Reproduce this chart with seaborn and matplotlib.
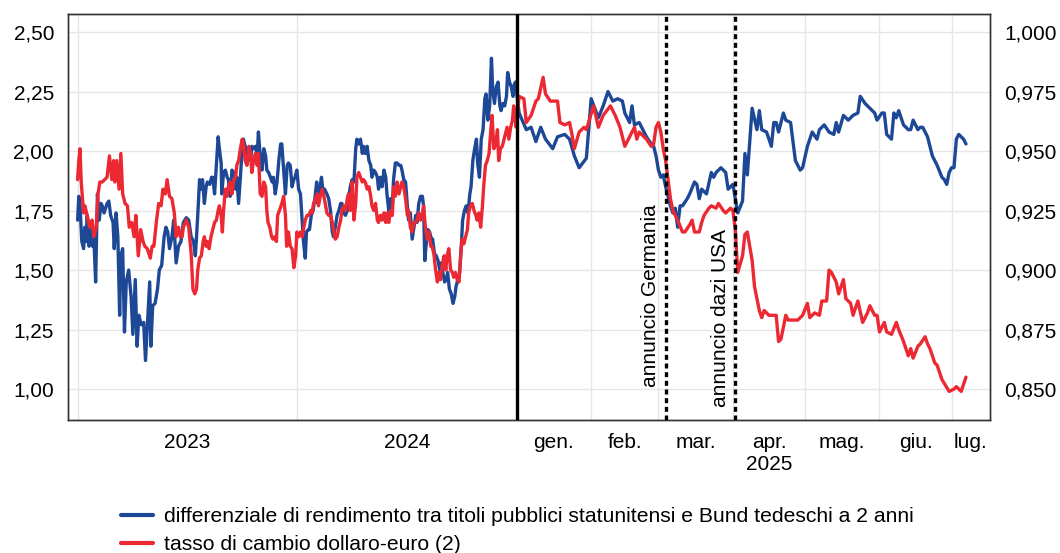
import numpy as np
import pandas as pd
import matplotlib
matplotlib.use("Agg")
import matplotlib.pyplot as plt
import matplotlib.ticker as ticker
from matplotlib.lines import Line2D
import seaborn as sns

# Values.
# 2023-24 readings: days since 1 Jan 2023; 2025 readings: days since 1 Jan 2025

# US-German 2 year yield spread (left axis, percentage points)
spread_days_2324 = [0, 2, 4, 7, 10, 12, 14, 16, 19, 22, 25, 27, 30, 33, 36, 39, 41, 44, 49, 52, 55, 59, 61, 64, 67, 70, 72, 75, 78, 81,
                    85, 89, 92, 96, 99, 102, 106, 110, 113, 117, 120, 122, 125, 129, 133, 136, 140, 144, 147, 150, 153, 157, 160, 164, 168, 172, 176, 181, 185, 189,
                    193, 196, 198, 200, 203, 205, 208, 211, 214, 216, 220, 223, 225, 228, 231, 234, 236, 239, 240, 243, 246, 249, 251, 254, 257, 260, 263, 265, 268, 271,
                    274, 276, 279, 282, 285, 288, 290, 293, 296, 299, 301, 304, 307, 310, 313, 315, 318, 321, 324, 326, 329, 332, 335, 338, 340, 343, 346, 349, 351, 354,
                    357, 360, 362, 365, 368, 371, 374, 376, 379, 381, 384, 386, 389, 392, 395, 398, 400, 403, 406, 409, 411, 415, 418, 421, 424, 426, 429, 432, 435, 438,
                    440, 443, 446, 449, 451, 454, 457, 460, 463, 465, 468, 471, 474, 476, 479, 482, 485, 488, 490, 493, 496, 499, 501, 504, 507, 510, 513, 515, 518, 521,
                    524, 526, 529, 532, 535, 538, 540, 543, 546, 549, 551, 554, 557, 560, 563, 565, 568, 571, 574, 576, 578, 580, 583, 586, 589, 591, 594, 597, 600, 603,
                    605, 608, 611, 614, 616, 619, 622, 625, 628, 630, 633, 636, 639, 641, 644, 647, 650, 653, 655, 658, 661, 664, 666, 669, 672, 675, 678, 680, 683, 686,
                    689, 691, 694, 697, 700, 703, 705, 708, 711, 714, 716, 719, 722, 725, 727, 729]
spread_2324 = [1.71, 1.81, 1.77, 1.62, 1.59, 1.68, 1.62, 1.73, 1.60, 1.68, 1.60, 1.64, 1.45, 1.82, 1.71, 1.78, 1.77, 1.74, 1.78, 1.79, 1.73, 1.70, 1.59, 1.74, 1.64, 1.31, 1.56, 1.59, 1.24, 1.45,
               1.50, 1.39, 1.23, 1.46, 1.18, 1.31, 1.27, 1.28, 1.12, 1.31, 1.45, 1.18, 1.35, 1.36, 1.42, 1.50, 1.52, 1.64, 1.68, 1.66, 1.59, 1.64, 1.71, 1.53, 1.60, 1.62, 1.70, 1.72, 1.71, 1.64,
               1.62, 1.56, 1.64, 1.73, 1.88, 1.84, 1.88, 1.78, 1.85, 1.87, 1.86, 1.89, 1.89, 1.82, 1.94, 2.06, 2.01, 1.95, 1.82, 1.91, 1.92, 1.89, 1.88, 1.81, 1.92, 1.91, 1.84, 1.89, 1.78, 1.89,
               2.01, 2.05, 2.02, 1.95, 2.01, 1.96, 2.02, 2.01, 2.02, 1.98, 2.08, 1.98, 1.92, 2.01, 1.98, 1.92, 1.91, 1.89, 1.87, 1.89, 1.82, 1.87, 1.96, 2.03, 2.03, 1.92, 1.82, 1.94, 1.95, 1.94,
               1.85, 1.88, 1.89, 1.92, 1.84, 1.82, 1.70, 1.62, 1.55, 1.66, 1.67, 1.67, 1.73, 1.75, 1.80, 1.87, 1.78, 1.84, 1.89, 1.82, 1.84, 1.82, 1.80, 1.75, 1.66, 1.64, 1.68, 1.73, 1.75, 1.78,
               1.78, 1.74, 1.73, 1.75, 1.80, 1.85, 1.88, 1.87, 2.01, 2.05, 2.03, 2.05, 1.99, 2.02, 1.99, 2.02, 1.96, 1.94, 1.89, 1.92, 1.91, 1.89, 1.84, 1.89, 1.85, 1.92, 1.89, 1.82, 1.75, 1.80,
               1.77, 1.88, 1.95, 1.95, 1.94, 1.94, 1.92, 1.88, 1.87, 1.77, 1.71, 1.74, 1.63, 1.68, 1.73, 1.70, 1.78, 1.81, 1.81, 1.77, 1.54, 1.60, 1.67, 1.66, 1.63, 1.63, 1.57, 1.56, 1.54, 1.50,
               1.53, 1.49, 1.45, 1.46, 1.49, 1.42, 1.40, 1.36, 1.39, 1.43, 1.46, 1.49, 1.61, 1.71, 1.75, 1.77, 1.74, 1.82, 1.85, 1.96, 2.01, 2.05, 1.95, 1.89, 2.05, 2.09, 2.22, 2.24, 2.13, 2.19,
               2.39, 2.26, 2.20, 2.27, 2.29, 2.19, 2.17, 2.20, 2.19, 2.23, 2.33, 2.29, 2.27, 2.23, 2.28, 2.29]
spread_days_25 = [1, 4, 6, 8, 10, 12, 15, 17, 20, 22, 24, 26, 29, 31, 34, 36, 38, 40, 42, 44, 45, 47, 48, 49, 51, 52, 54, 56, 57, 58,
                  59, 60, 61, 62, 63, 64, 65, 66, 67, 68, 69, 71, 72, 74, 75, 76, 77, 79, 81, 82, 83, 85, 87, 88, 90, 92, 94, 95, 96, 98,
                  100, 101, 102, 104, 106, 107, 108, 109, 111, 112, 114, 116, 118, 119, 121, 123, 125, 126, 128, 130, 132, 133, 134, 136, 138, 140, 142, 143, 145, 146,
                  149, 150, 152, 153, 154, 156, 157, 158, 159, 161, 163, 164, 165, 167, 168, 169, 171, 173, 175, 177, 178, 179, 180, 181, 182, 183, 184, 186, 187]
spread_25 = [2.16, 2.09, 2.10, 2.04, 2.10, 2.05, 2.01, 2.06, 2.07, 2.05, 1.98, 1.93, 1.97, 2.22, 2.14, 2.19, 2.25, 2.21, 2.22, 2.21, 2.16, 2.12, 2.19, 2.11, 2.12, 2.10, 2.06, 2.03, 2.02, 1.98,
             1.92, 1.89, 1.90, 1.85, 1.81, 1.77, 1.74, 1.76, 1.68, 1.77, 1.77, 1.80, 1.82, 1.87, 1.86, 1.80, 1.84, 1.82, 1.91, 1.89, 1.91, 1.93, 1.91, 1.84, 1.86, 1.74, 1.79, 1.99, 1.90, 2.18,
             2.09, 2.17, 2.09, 2.08, 2.02, 2.12, 2.12, 2.08, 2.16, 2.13, 2.12, 1.96, 1.92, 1.93, 2.02, 2.08, 2.05, 2.09, 2.11, 2.08, 2.07, 2.12, 2.08, 2.15, 2.13, 2.15, 2.16, 2.23, 2.20, 2.19,
             2.16, 2.13, 2.16, 2.16, 2.07, 2.05, 2.16, 2.14, 2.17, 2.11, 2.09, 2.09, 2.13, 2.09, 2.10, 2.10, 2.06, 1.98, 1.94, 1.89, 1.88, 1.86, 1.91, 1.93, 1.93, 2.05, 2.07, 2.05, 2.03]

# dollar-euro exchange rate (right axis)
fx_days_2324 = [0, 2, 4, 6, 10, 12, 16, 20, 24, 27, 31, 34, 37, 41, 45, 49, 53, 57, 60, 62, 65, 69, 72, 75, 79, 83, 86, 90, 94, 97,
                101, 105, 109, 112, 116, 121, 124, 127, 131, 135, 139, 142, 146, 149, 153, 157, 161, 164, 168, 171, 174, 176, 181, 185, 189, 192, 195, 198, 200, 203,
                206, 209, 211, 214, 216, 219, 222, 225, 228, 231, 234, 236, 239, 241, 243, 246, 249, 251, 254, 257, 260, 263, 265, 268, 271, 274, 276, 279, 282, 285,
                288, 290, 293, 296, 299, 301, 304, 307, 310, 313, 315, 317, 320, 323, 325, 328, 331, 333, 336, 340, 343, 346, 348, 351, 354, 357, 360, 363, 365, 368,
                371, 374, 376, 379, 382, 385, 388, 390, 393, 396, 399, 401, 404, 407, 410, 413, 415, 418, 421, 424, 426, 429, 432, 435, 438, 440, 443, 446, 449, 451,
                454, 457, 460, 463, 465, 468, 471, 474, 476, 479, 482, 485, 488, 490, 493, 496, 499, 501, 504, 507, 510, 513, 515, 518, 521, 524, 526, 529, 532, 535,
                538, 540, 543, 546, 549, 551, 554, 557, 560, 563, 565, 568, 571, 574, 576, 579, 582, 585, 588, 590, 593, 596, 599, 601, 604, 607, 610, 613, 615, 618,
                621, 624, 626, 629, 632, 635, 638, 640, 643, 646, 649, 651, 654, 657, 660, 663, 665, 668, 671, 674, 676, 679, 682, 685, 688, 690, 693, 696, 699, 701,
                704, 707, 710, 713, 715, 718, 721, 724, 726, 728, 730]
fx_2324 = [0.938, 0.946, 0.951, 0.937, 0.924, 0.927, 0.923, 0.918, 0.921, 0.914, 0.918, 0.932, 0.937, 0.937, 0.938, 0.939, 0.948, 0.938, 0.946, 0.937, 0.946, 0.934, 0.949, 0.932, 0.928, 0.927, 0.918, 0.920, 0.914, 0.923,
           0.906, 0.917, 0.912, 0.910, 0.909, 0.905, 0.910, 0.910, 0.920, 0.928, 0.927, 0.934, 0.932, 0.938, 0.931, 0.930, 0.924, 0.914, 0.918, 0.914, 0.914, 0.918, 0.921, 0.918, 0.907, 0.892, 0.890, 0.892, 0.900, 0.905,
           0.906, 0.912, 0.914, 0.910, 0.912, 0.909, 0.914, 0.917, 0.920, 0.921, 0.925, 0.927, 0.923, 0.916, 0.925, 0.934, 0.931, 0.935, 0.937, 0.932, 0.938, 0.939, 0.944, 0.946, 0.951, 0.955, 0.953, 0.946, 0.944, 0.952,
           0.949, 0.941, 0.946, 0.949, 0.944, 0.949, 0.932, 0.931, 0.937, 0.935, 0.925, 0.920, 0.918, 0.914, 0.913, 0.914, 0.912, 0.923, 0.925, 0.928, 0.931, 0.923, 0.910, 0.916, 0.910, 0.909, 0.901, 0.906, 0.916, 0.914,
           0.916, 0.914, 0.917, 0.921, 0.923, 0.923, 0.925, 0.924, 0.928, 0.930, 0.932, 0.927, 0.931, 0.934, 0.931, 0.927, 0.924, 0.923, 0.923, 0.920, 0.917, 0.913, 0.914, 0.918, 0.921, 0.925, 0.927, 0.925, 0.930, 0.932,
           0.925, 0.937, 0.921, 0.928, 0.939, 0.941, 0.939, 0.937, 0.938, 0.937, 0.934, 0.935, 0.931, 0.927, 0.925, 0.928, 0.921, 0.920, 0.923, 0.921, 0.924, 0.920, 0.924, 0.920, 0.925, 0.923, 0.935, 0.931, 0.937, 0.932,
           0.935, 0.937, 0.935, 0.930, 0.923, 0.925, 0.918, 0.916, 0.920, 0.920, 0.921, 0.924, 0.921, 0.924, 0.927, 0.918, 0.913, 0.916, 0.910, 0.910, 0.907, 0.900, 0.895, 0.899, 0.896, 0.902, 0.906, 0.900, 0.906, 0.909,
           0.900, 0.899, 0.897, 0.899, 0.896, 0.895, 0.907, 0.913, 0.911, 0.914, 0.917, 0.924, 0.927, 0.928, 0.925, 0.923, 0.921, 0.924, 0.918, 0.927, 0.935, 0.944, 0.946, 0.949, 0.959, 0.965, 0.951, 0.953, 0.959, 0.946,
           0.951, 0.952, 0.955, 0.958, 0.960, 0.955, 0.960, 0.963, 0.969, 0.966, 0.960]
fx_days_25 = [1, 3, 4, 6, 8, 9, 11, 12, 14, 17, 18, 20, 22, 23, 24, 26, 28, 29, 32, 34, 36, 39, 41, 43, 45, 47, 49, 50, 51, 54,
              56, 57, 58, 59, 60, 61, 62, 63, 64, 65, 66, 67, 69, 70, 72, 73, 74, 76, 77, 78, 80, 81, 83, 84, 86, 87, 89, 90, 91, 92,
              94, 95, 96, 98, 99, 101, 102, 103, 105, 106, 108, 109, 110, 112, 113, 115, 117, 119, 121, 122, 124, 126, 127, 129, 130, 131, 133, 134, 136, 137,
              139, 140, 142, 144, 146, 147, 149, 150, 151, 153, 154, 156, 158, 159, 161, 163, 164, 165, 167, 168, 170, 171, 172, 174, 175, 177, 180, 182, 183, 185, 187]
fx_25 = [0.973, 0.972, 0.962, 0.965, 0.971, 0.972, 0.981, 0.974, 0.971, 0.971, 0.962, 0.961, 0.962, 0.957, 0.951, 0.958, 0.960, 0.959, 0.969, 0.960, 0.965, 0.969, 0.965, 0.960, 0.952, 0.956, 0.960, 0.955, 0.958, 0.955,
         0.952, 0.953, 0.960, 0.962, 0.958, 0.951, 0.946, 0.938, 0.930, 0.925, 0.923, 0.921, 0.916, 0.916, 0.919, 0.921, 0.916, 0.916, 0.920, 0.923, 0.926, 0.927, 0.926, 0.928, 0.925, 0.924, 0.926, 0.925, 0.917, 0.899,
         0.906, 0.915, 0.916, 0.904, 0.893, 0.883, 0.880, 0.883, 0.881, 0.881, 0.881, 0.870, 0.871, 0.881, 0.879, 0.879, 0.879, 0.881, 0.886, 0.880, 0.882, 0.881, 0.887, 0.887, 0.900, 0.899, 0.895, 0.890, 0.896, 0.888,
         0.886, 0.881, 0.887, 0.878, 0.882, 0.885, 0.881, 0.881, 0.874, 0.878, 0.874, 0.873, 0.878, 0.875, 0.870, 0.864, 0.867, 0.863, 0.868, 0.869, 0.872, 0.869, 0.867, 0.861, 0.860, 0.854, 0.849, 0.850, 0.851, 0.849, 0.855]

year_labels = ["2023", "2024"]
month_labels = ["gen.", "feb.", "mar.", "apr.\n2025", "mag.", "giu.", "lug."]
events = [("annuncio Germania", "2025-03-04", 1.008), ("annuncio dazi USA", "2025-04-02", 0.924)]
series_labels = ["differenziale di rendimento tra titoli pubblici statunitensi e Bund tedeschi a 2 anni",
                 "tasso di cambio dollaro-euro (2)"]

BLUE = "#1d4896"
RED = "#ec2833"

START = pd.Timestamp("2023-01-01")
SPLIT = pd.Timestamp("2025-01-01")
STRETCH = 4.0  # 2025 is drawn four times wider than 2023-24


def axis_pos(dates):
    dates = pd.to_datetime(pd.Series(dates))
    before = (dates - START).dt.days.astype(float)
    after = (SPLIT - START).days + (dates - SPLIT).dt.days * STRETCH
    return np.where(dates < SPLIT, before, after)


def to_frame(days_a, vals_a, days_b, vals_b):
    dates = list(START + pd.to_timedelta(days_a, unit="D")) + list(SPLIT + pd.to_timedelta(days_b, unit="D"))
    df = pd.DataFrame({"date": dates, "value": list(vals_a) + list(vals_b)})
    df["pos"] = axis_pos(df["date"])
    return df


spread = to_frame(spread_days_2324, spread_2324, spread_days_25, spread_25)
fx = to_frame(fx_days_2324, fx_2324, fx_days_25, fx_25)

sns.set_theme(style="white")
plt.rcParams["font.family"] = ["Liberation Sans", "DejaVu Sans"]

fig = plt.figure(figsize=(10.6, 5.53), dpi=100)
ax = fig.add_axes([68 / 1060, 1 - 420 / 553, 922 / 1060, 406 / 553])
ax2 = ax.twinx()

sns.lineplot(data=spread, x="pos", y="value", ax=ax, color=BLUE, lw=2.4, sort=False)
sns.lineplot(data=fx, x="pos", y="value", ax=ax2, color=RED, lw=2.4, sort=False)

x_left = axis_pos(["2022-12-16"])[0]
x_right = axis_pos(["2025-07-17"])[0]
ax.set_xlim(x_left, x_right)
ax.set_ylim(0.87, 2.576)
ax2.set_ylim(0.837, 1.0076)

# gridlines at year / month starts, labels centred in between
grid_dates = ["2023-01-01", "2024-01-01", "2025-01-01", "2025-02-01", "2025-03-01",
              "2025-04-01", "2025-05-01", "2025-06-01", "2025-07-01"]
grid_pos = list(axis_pos(grid_dates))
edges = grid_pos + [x_right]
label_pos = [(edges[i] + edges[i + 1]) / 2 for i in range(len(edges) - 1)]
ax.xaxis.set_major_locator(ticker.FixedLocator(grid_pos))
ax.xaxis.set_minor_locator(ticker.FixedLocator(label_pos))
ax.xaxis.set_major_formatter(ticker.NullFormatter())
ax.xaxis.set_minor_formatter(ticker.FixedFormatter(year_labels + month_labels))

ax.set_yticks(np.arange(1.0, 2.51, 0.25))
ax2.set_yticks(np.arange(0.85, 1.001, 0.025))
ax.yaxis.set_major_formatter(ticker.FuncFormatter(lambda v, p: f"{v:.2f}".replace(".", ",")))
ax2.yaxis.set_major_formatter(ticker.FuncFormatter(lambda v, p: f"{v:.3f}".replace(".", ",")))

ax.tick_params(axis="x", which="both", length=0, pad=9, labelsize=15, colors="black")
ax.tick_params(axis="y", length=0, pad=10, labelsize=15, colors="black")
ax2.tick_params(axis="y", length=0, pad=10, labelsize=15, colors="black")

ax.grid(True, which="major", color="#e6e6e6", lw=1)
ax2.grid(False)
ax.set_xlabel("")
ax.set_ylabel("")
ax2.set_ylabel("")
for a in (ax, ax2):
    for s in a.spines.values():
        s.set_color("#333333")
        s.set_linewidth(1.0)

# break between the two time scales and the event markers
ax2.axvline(axis_pos([SPLIT])[0], color="black", lw=2.4, zorder=5)
for text, day, y in events:
    xp = axis_pos([day])[0]
    ax2.axvline(xp, color="black", lw=2.4, linestyle=(0, (1.5, 1.1)), zorder=5)
    ax.annotate(text, xy=(xp, y), xytext=(-4, 0), textcoords="offset points",
                rotation=90, ha="right", va="bottom", fontsize=15, color="black")

handles = [Line2D([], [], color=BLUE, lw=3), Line2D([], [], color=RED, lw=3)]
fig.legend(handles, series_labels, loc="upper left", bbox_to_anchor=(121 / 1060, 1 - 507 / 553),
           frameon=False, fontsize=15.2, handlelength=1.5, handletextpad=0.55,
           labelspacing=0.45, borderpad=0, borderaxespad=0, labelcolor="black")

fig.savefig("out.png", dpi=100)
